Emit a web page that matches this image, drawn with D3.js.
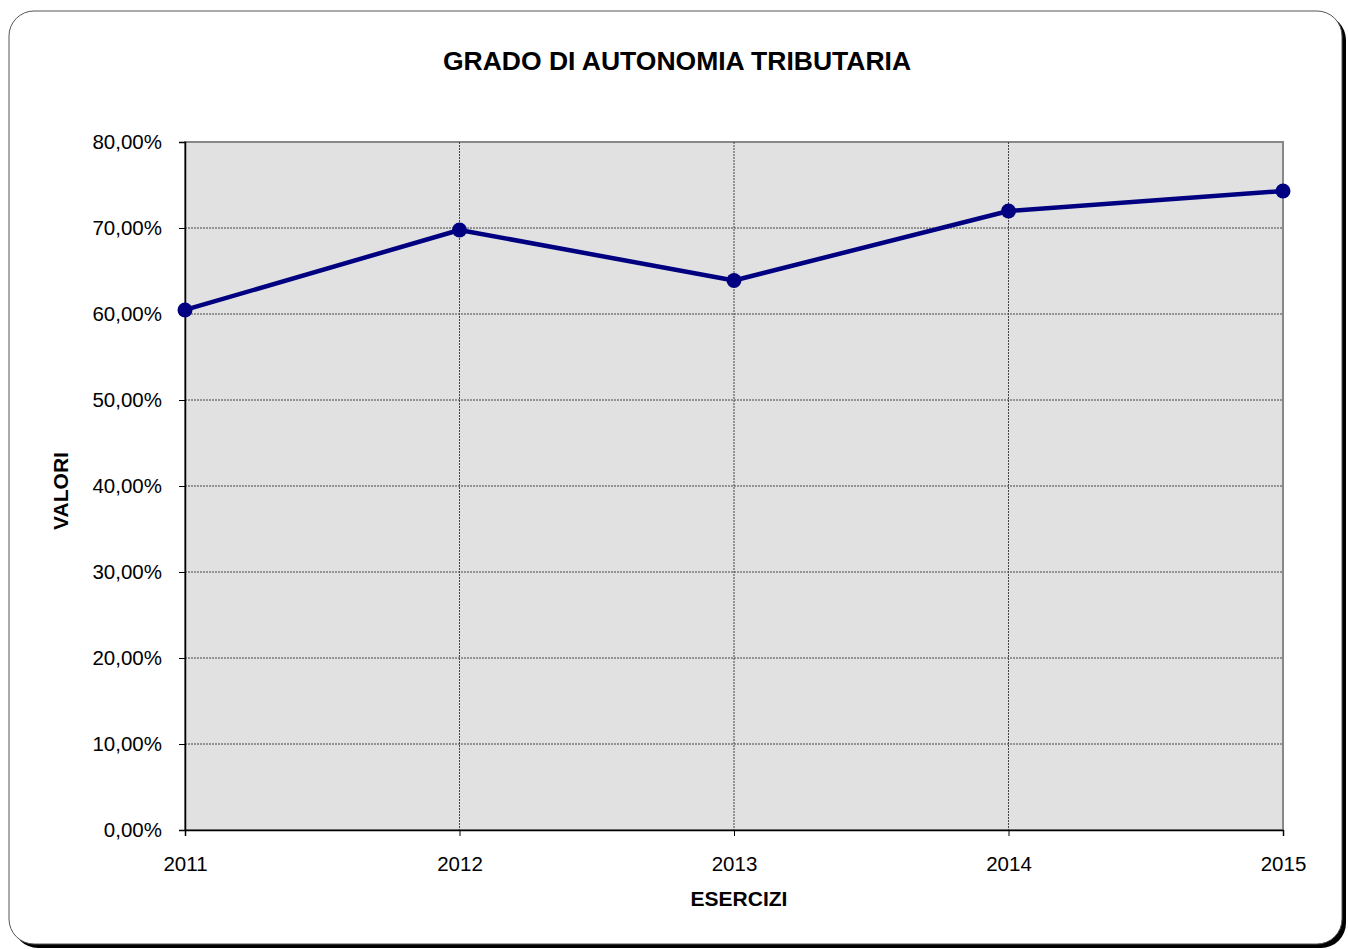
<!DOCTYPE html>
<html lang="it">
<head>
<meta charset="UTF-8">
<title>Grado di autonomia tributaria</title>
<script src="https://d3js.org/d3.v7.min.js"></script>
<style>
    body { margin: 0; background: #fff; font-family: "Liberation Sans", Arial, sans-serif; }
    svg text { font-family: "Liberation Sans", Arial, sans-serif; fill: #000; }
</style>
</head>
<body>
<svg width="1348" height="949"></svg>
<script>
    const years = ["2011", "2012", "2013", "2014", "2015"];
    const valori = [60.47, 69.77, 63.9, 71.98, 74.3];
    const yTicks = [0, 10, 20, 30, 40, 50, 60, 70, 80];

    const svg = d3.select("svg");
    const margin = {top: 142, right: 65, bottom: 119, left: 185};
    const width = 1348, height = 949;
    const innerWidth = width - margin.left - margin.right;
    const innerHeight = height - margin.top - margin.bottom;

    // outer frame with shadow
    svg.append("rect")
        .attr("x", 13).attr("y", 15)
        .attr("width", 1333).attr("height", 933)
        .attr("rx", 25).attr("fill", "#000");
    svg.append("rect")
        .attr("x", 9).attr("y", 11)
        .attr("width", 1333).attr("height", 933)
        .attr("rx", 25)
        .attr("fill", "#fff")
        .attr("stroke", "#555").attr("stroke-width", 1);

    const x = d3.scalePoint().domain(years).range([0, innerWidth]);
    const y = d3.scaleLinear().domain([0, 80]).range([innerHeight, 0]);

    const g = svg.append("g")
        .attr("transform", `translate(${margin.left},${margin.top})`);

    g.append("rect")
        .attr("width", innerWidth).attr("height", innerHeight)
        .attr("fill", "#e1e1e1")
        .attr("stroke", "#888").attr("stroke-width", 2);

    // grid
    g.selectAll(".hgrid")
        .data(yTicks.slice(1, -1))
        .enter().append("line")
        .attr("x1", 0).attr("x2", innerWidth)
        .attr("y1", d => y(d)).attr("y2", d => y(d))
        .attr("stroke", "#444").attr("stroke-width", 1)
        .attr("stroke-dasharray", "2,1");

    g.selectAll(".vgrid")
        .data(years.slice(1, -1))
        .enter().append("line")
        .attr("x1", d => x(d)).attr("x2", d => x(d))
        .attr("y1", 0).attr("y2", innerHeight)
        .attr("stroke", "#444").attr("stroke-width", 1)
        .attr("stroke-dasharray", "2,1");

    const fmt = d => d.toFixed(2).replace(".", ",") + "%";

    const yAxis = g.append("g")
        .call(d3.axisLeft(y).tickValues(yTicks).tickFormat(fmt).tickSizeOuter(0).tickSize(6).tickPadding(17));
    yAxis.select(".domain").attr("stroke", "#000").attr("stroke-width", 1.5);
    yAxis.selectAll("text").style("font-size", "20.5px");

    const xAxis = g.append("g")
        .attr("transform", `translate(0,${innerHeight})`)
        .call(d3.axisBottom(x).tickSizeOuter(0).tickSize(6).tickPadding(20));
    xAxis.select(".domain").attr("stroke", "#000").attr("stroke-width", 1.5);
    xAxis.selectAll("text").style("font-size", "20.5px");

    const data = years.map((yr, i) => ({year: yr, value: valori[i]}));

    g.append("path")
        .datum(data)
        .attr("fill", "none")
        .attr("stroke", "#000080")
        .attr("stroke-width", 4.5)
        .attr("stroke-linejoin", "round")
        .attr("d", d3.line().x(d => x(d.year)).y(d => y(d.value)));

    g.selectAll(".pt")
        .data(data)
        .enter().append("circle")
        .attr("cx", d => x(d.year))
        .attr("cy", d => y(d.value))
        .attr("r", 7.5)
        .attr("fill", "#000080");

    svg.append("text")
        .attr("x", 677).attr("y", 70)
        .attr("text-anchor", "middle")
        .style("font-size", "26.5px").style("font-weight", "bold")
        .text("GRADO DI AUTONOMIA TRIBUTARIA");

    svg.append("text")
        .attr("x", 739).attr("y", 906)
        .attr("text-anchor", "middle")
        .style("font-size", "21px").style("font-weight", "bold")
        .text("ESERCIZI");

    svg.append("text")
        .attr("transform", "translate(68,491) rotate(-90)")
        .attr("text-anchor", "middle")
        .style("font-size", "21px").style("font-weight", "bold")
        .text("VALORI");
</script>
</body>
</html>
